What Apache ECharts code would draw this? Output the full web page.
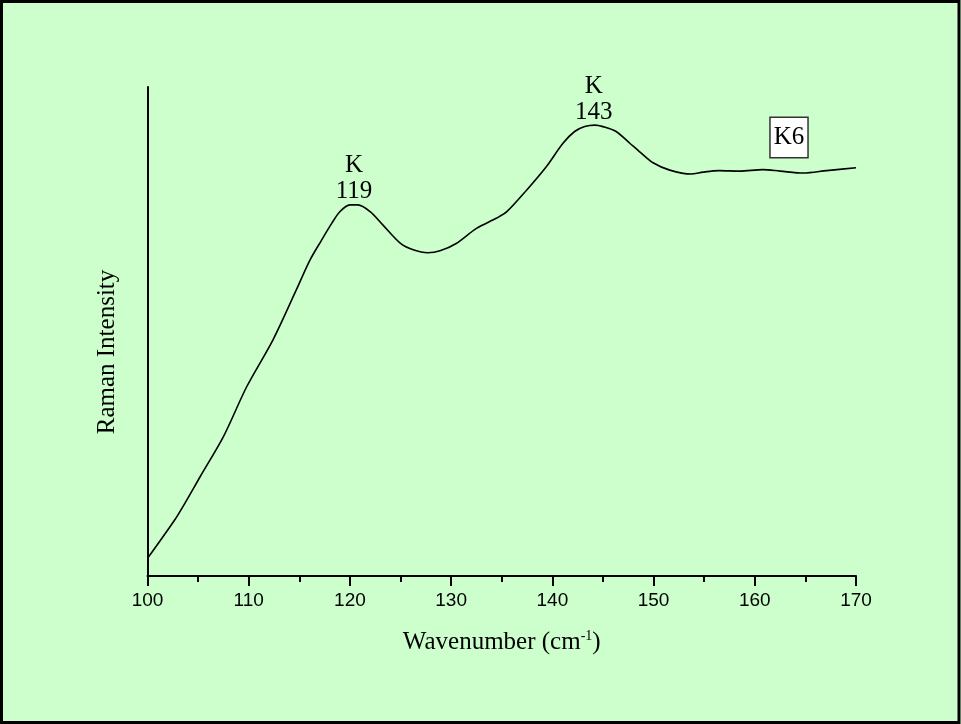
<!DOCTYPE html>
<html>
<head>
<meta charset="utf-8">
<script src="https://cdn.jsdelivr.net/npm/echarts@6/dist/echarts.min.js"></script>
<style>
html,body{margin:0;padding:0;background:#ccffcc;}
#c{width:961px;height:724px;}
</style>
</head>
<body>
<div id="c"></div>
<script>
// Wavenumber (cm-1)
const wavenumber = [100.0,102.7,103.7,105.2,107.5,109.8,112.4,114.7,116.05,117.2,118.2,119.0,120.0,120.8,122.0,123.2,125.0,126.25,127.7,128.9,130.5,132.5,134.5,135.5,137.45,139.4,141.05,142.2,143.2,144.2,145.0,146.3,147.65,148.6,149.95,151.6,153.7,154.9,156.5,158.5,160.8,162.5,164.8,167.1,170.0];
// Raman intensity (arbitrary units)
const intensity = [3.6,11.5,14.9,20.3,28.5,38.7,48.3,58.5,64.6,68.7,72.1,74.5,75.9,75.9,74.5,71.9,68.0,66.7,66.1,66.5,68.0,71.1,73.2,74.5,78.9,83.7,88.5,90.9,91.9,92.2,91.9,90.9,88.5,86.8,84.5,83.0,82.2,82.6,82.9,82.8,83.1,82.8,82.4,82.9,83.5];
const peaks = [[120.4, 75.9, 'K', '119'], [144.1, 92.2, 'K', '143']];
const sampleName = 'K6';
const xTicks = {min: 100, max: 170, interval: 10};

const chart = echarts.init(document.getElementById('c'), null, {renderer: 'canvas'});
const data = wavenumber.map((w, i) => [w, intensity[i]]);
const serif = '"Liberation Serif", "Times New Roman", serif';
const sans = '"Liberation Sans", Arial, sans-serif';

chart.setOption({
  backgroundColor: '#ccffcc',
  animation: false,
  grid: {left: 147.5, right: 105, top: 87, bottom: 148},
  xAxis: {
    type: 'value', min: xTicks.min, max: xTicks.max, interval: xTicks.interval,
    name: '{a|Wavenumber (cm}{s|-1}{a|)}',
    nameLocation: 'middle', nameGap: 52,
    nameTextStyle: {
      rich: {
        a: {fontFamily: serif, fontSize: 25, color: '#000', lineHeight: 28},
        s: {fontFamily: serif, fontSize: 14, color: '#000', padding: [0, 0, 12, 0], lineHeight: 28}
      }
    },
    axisLine: {show: true, onZero: false, lineStyle: {color: '#000', width: 2}},
    axisTick: {show: true, inside: false, length: 10, lineStyle: {color: '#000', width: 2}},
    minorTick: {show: true, splitNumber: 2, length: 6, lineStyle: {color: '#000', width: 2}},
    axisLabel: {fontFamily: sans, fontSize: 19, color: '#000', margin: 15, showMinLabel: true, showMaxLabel: true},
    splitLine: {show: false}
  },
  yAxis: {
    type: 'value', min: 0, max: 100,
    axisLine: {show: true, onZero: false, lineStyle: {color: '#000', width: 2}},
    axisTick: {show: false}, axisLabel: {show: false}, splitLine: {show: false}
  },
  series: [{
    type: 'line', data: data, smooth: 0.3, symbol: 'none',
    lineStyle: {color: '#000', width: 1.6},
    markPoint: {
      symbol: 'circle', symbolSize: 0,
      data: peaks.map(p => ({coord: [p[0], p[1]], value: p[2] + '\n' + p[3]})),
      label: {
        show: true, position: 'top', distance: 0,
        formatter: d => d.value,
        fontFamily: serif, fontSize: 25, color: '#000', lineHeight: 26, align: 'center'
      }
    }
  }],
  graphic: [
    {type: 'rect', silent: true, z: 100,
     shape: {x: 1.5, y: 1.5, width: 957.5, height: 721},
     style: {fill: null, stroke: '#000', lineWidth: 3}},
    {type: 'text', silent: true, x: 107, y: 352, rotation: Math.PI / 2,
     style: {text: 'Raman Intensity', font: '25px ' + serif, fill: '#000', textAlign: 'center', textVerticalAlign: 'middle'}},
    {type: 'text', silent: true, x: 789, y: 137.5,
     style: {text: sampleName, font: '25px ' + serif, fill: '#000', textAlign: 'center', textVerticalAlign: 'middle',
             backgroundColor: '#fff', borderColor: '#333', borderWidth: 1.5, padding: [8, 3, 6, 3]}}
  ]
});
</script>
</body>
</html>
